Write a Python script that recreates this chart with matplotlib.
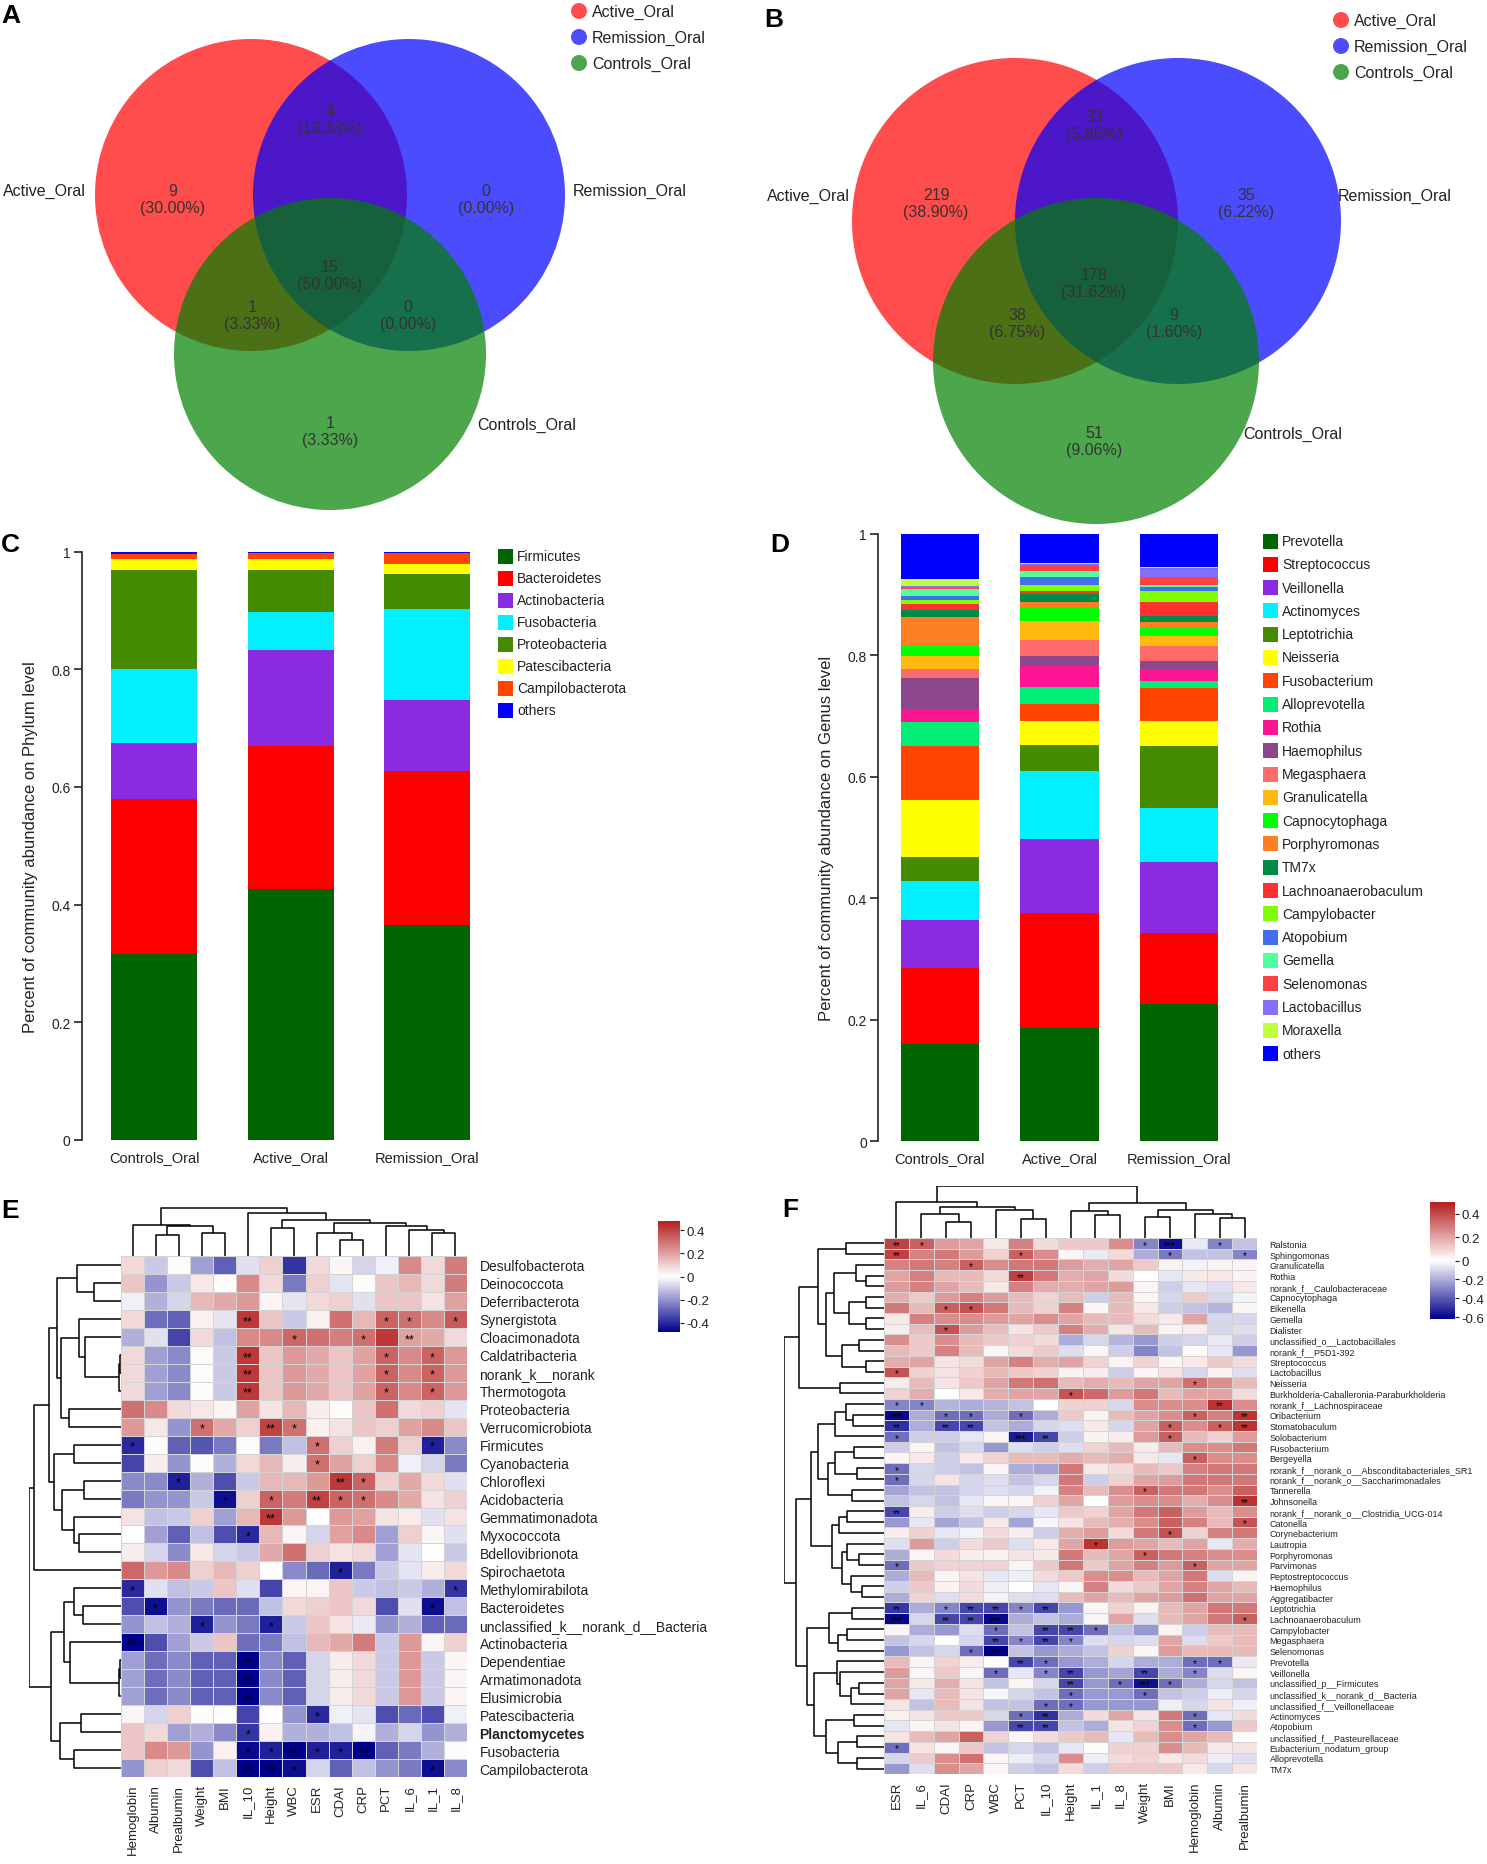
import numpy as np
import matplotlib
matplotlib.use("Agg")
import matplotlib.pyplot as plt
from matplotlib.patches import Circle, Rectangle
from matplotlib.colors import LinearSegmentedColormap, TwoSlopeNorm

# ---------------- data ----------------
venn_groups = ["Active_Oral", "Remission_Oral", "Controls_Oral"]
# region order: only A, A&R, only R, all, A&C, R&C, only C
venn_a_counts = [9, 4, 0, 15, 1, 0, 1]
venn_b_counts = [219, 33, 35, 178, 38, 9, 51]

samples = ["Controls_Oral", "Active_Oral", "Remission_Oral"]

phyla = ["Firmicutes", "Bacteroidetes", "Actinobacteria", "Fusobacteria",
         "Proteobacteria", "Patescibacteria", "Campilobacterota", "others"]
phyla_colors = ["#006400", "#ff0000", "#8a2be2", "#00f0ff", "#458b00",
                "#ffff00", "#ff4500", "#0000ff"]
phyla_abund = {
    "Controls_Oral": [0.316, 0.264, 0.094, 0.127, 0.168, 0.019, 0.007, 0.005],
    "Active_Oral": [0.427, 0.242, 0.164, 0.065, 0.071, 0.018, 0.010, 0.003],
    "Remission_Oral": [0.366, 0.261, 0.120, 0.156, 0.059, 0.016, 0.019, 0.003],
}

genera = ["Prevotella", "Streptococcus", "Veillonella", "Actinomyces", "Leptotrichia",
          "Neisseria", "Fusobacterium", "Alloprevotella", "Rothia", "Haemophilus",
          "Megasphaera", "Granulicatella", "Capnocytophaga", "Porphyromonas", "TM7x",
          "Lachnoanaerobaculum", "Campylobacter", "Atopobium", "Gemella", "Selenomonas",
          "Lactobacillus", "Moraxella", "others"]
genera_colors = ["#006400", "#ff0000", "#8a2be2", "#00f0ff", "#458b00", "#ffff00",
                 "#ff4500", "#00ee76", "#ff1493", "#8b4789", "#ff6a6a", "#ffb90f",
                 "#00ff00", "#ff7f24", "#008b45", "#ff3030", "#7fff00", "#436eee",
                 "#54ff9f", "#ff4040", "#836fff", "#c0ff3e", "#0000ff"]
genera_abund = {
    "Controls_Oral": [0.160, 0.125, 0.079, 0.064, 0.039, 0.095, 0.089, 0.039, 0.022, 0.051,
                      0.014, 0.022, 0.017, 0.047, 0.011, 0.010, 0.007, 0.006, 0.011, 0.002,
                      0.004, 0.011, 0.075],
    "Active_Oral": [0.186, 0.189, 0.122, 0.112, 0.043, 0.039, 0.028, 0.028, 0.035, 0.016,
                    0.027, 0.031, 0.023, 0.009, 0.012, 0.006, 0.010, 0.012, 0.010, 0.011,
                    0.001, 0.001, 0.049],
    "Remission_Oral": [0.225, 0.118, 0.117, 0.089, 0.101, 0.041, 0.055, 0.011, 0.020, 0.014,
                       0.024, 0.016, 0.013, 0.011, 0.010, 0.022, 0.018, 0.007, 0.004, 0.013,
                       0.015, 0.001, 0.055],
}

# ---- heatmap E (phylum vs clinical) ----
e_rows = ["Desulfobacterota", "Deinococcota", "Deferribacterota", "Synergistota",
          "Cloacimonadota", "Caldatribacteria", "norank_k__norank", "Thermotogota",
          "Proteobacteria", "Verrucomicrobiota", "Firmicutes", "Cyanobacteria",
          "Chloroflexi", "Acidobacteria", "Gemmatimonadota", "Myxococcota",
          "Bdellovibrionota", "Spirochaetota", "Methylomirabilota", "Bacteroidetes",
          "unclassified_k__norank_d__Bacteria", "Actinobacteria", "Dependentiae",
          "Armatimonadota", "Elusimicrobia", "Patescibacteria", "Planctomycetes",
          "Fusobacteria", "Campilobacterota"]
e_cols = ["Hemoglobin", "Albumin", "Prealbumin", "Weight", "BMI", "IL_10", "Height",
          "WBC", "ESR", "CDAI", "CRP", "PCT", "IL_6", "IL_1", "IL_8"]
e_corr = [
    [0.08, -0.10, 0.01, -0.18, -0.30, -0.06, 0.10, -0.38, 0.08, 0.02, -0.08, -0.03, 0.25, 0.08, 0.28],
    [0.12, -0.20, -0.10, 0.05, 0.01, 0.25, 0.08, -0.25, 0.10, -0.05, 0.01, 0.12, 0.15, 0.08, 0.28],
    [-0.03, -0.15, -0.08, 0.15, 0.18, 0.22, 0.02, -0.05, 0.08, 0.10, -0.06, 0.12, 0.12, 0.06, 0.20],
    [0.08, -0.27, -0.30, 0.03, -0.05, 0.42, 0.12, -0.10, 0.03, 0.30, 0.15, 0.33, 0.30, 0.25, 0.35],
    [-0.15, -0.06, -0.35, 0.08, -0.12, 0.25, 0.25, 0.32, 0.30, 0.27, 0.30, 0.42, 0.20, 0.18, 0.08],
    [0.08, -0.18, -0.22, 0.01, -0.10, 0.42, 0.12, 0.22, 0.18, 0.12, 0.20, 0.33, 0.25, 0.33, 0.22],
    [0.08, -0.18, -0.22, 0.01, -0.10, 0.42, 0.12, 0.22, 0.18, 0.12, 0.20, 0.33, 0.25, 0.33, 0.22],
    [0.08, -0.18, -0.22, 0.01, -0.10, 0.42, 0.12, 0.22, 0.18, 0.12, 0.20, 0.33, 0.25, 0.33, 0.22],
    [0.30, 0.25, 0.08, 0.05, 0.02, 0.20, 0.06, 0.15, 0.04, 0.01, 0.12, 0.30, 0.08, 0.10, -0.05],
    [0.22, 0.05, -0.20, 0.30, 0.18, 0.10, 0.40, 0.30, 0.03, 0.06, 0.12, 0.10, 0.20, 0.25, 0.12],
    [-0.40, 0.01, -0.30, -0.32, -0.25, 0.01, -0.25, -0.12, 0.30, 0.10, 0.03, 0.28, 0.10, -0.42, -0.22],
    [-0.35, 0.04, -0.20, 0.01, -0.15, 0.08, 0.15, 0.04, 0.30, 0.20, 0.10, 0.25, -0.03, -0.08, -0.25],
    [-0.22, -0.22, -0.42, -0.15, -0.33, -0.10, 0.15, 0.15, 0.22, 0.42, 0.33, 0.10, 0.18, 0.08, -0.06],
    [-0.25, -0.20, -0.20, -0.10, -0.45, 0.10, 0.33, 0.28, 0.40, 0.33, 0.30, 0.25, 0.18, 0.06, 0.10],
    [0.06, -0.12, -0.10, 0.10, -0.18, 0.15, 0.42, 0.22, 0.00, 0.22, 0.20, 0.06, 0.04, -0.06, 0.06],
    [0.00, -0.18, -0.30, -0.12, -0.33, -0.40, 0.15, 0.02, -0.08, 0.20, 0.25, -0.18, 0.10, 0.02, -0.06],
    [0.04, -0.08, -0.22, 0.05, -0.08, -0.10, 0.18, 0.30, 0.10, 0.06, 0.08, -0.18, -0.05, 0.00, -0.10],
    [0.32, 0.22, 0.25, 0.10, 0.15, 0.10, 0.00, -0.22, -0.28, -0.42, -0.25, -0.10, -0.05, 0.04, 0.08],
    [-0.40, -0.06, -0.12, -0.10, 0.12, -0.06, -0.35, 0.02, 0.02, 0.12, -0.10, -0.12, -0.10, -0.15, -0.38],
    [-0.33, -0.45, -0.20, -0.25, -0.28, -0.28, -0.12, 0.08, 0.10, 0.12, 0.08, -0.33, -0.06, -0.45, -0.12],
    [-0.20, -0.12, -0.15, -0.42, -0.20, -0.25, -0.42, -0.10, 0.12, 0.06, -0.04, -0.20, -0.15, -0.30, -0.28],
    [-0.48, -0.33, -0.18, -0.10, 0.12, -0.27, -0.25, -0.12, 0.15, 0.18, 0.28, -0.10, 0.22, 0.02, 0.10],
    [-0.18, -0.27, -0.22, -0.30, -0.30, -0.48, -0.22, -0.30, -0.08, 0.04, 0.08, -0.10, 0.22, -0.10, 0.02],
    [-0.18, -0.27, -0.22, -0.30, -0.30, -0.48, -0.22, -0.30, -0.08, 0.04, 0.08, -0.10, 0.22, -0.10, 0.02],
    [-0.18, -0.27, -0.22, -0.30, -0.30, -0.48, -0.22, -0.30, -0.08, 0.04, 0.08, -0.10, 0.22, -0.10, 0.02],
    [0.02, -0.08, 0.10, 0.01, 0.00, -0.35, 0.00, -0.20, -0.40, -0.03, -0.05, -0.33, -0.28, -0.33, -0.03],
    [0.12, 0.08, -0.18, -0.15, -0.22, -0.38, 0.03, -0.15, -0.15, -0.12, -0.02, -0.15, -0.08, -0.20, -0.15],
    [0.12, 0.25, 0.22, -0.20, 0.03, -0.46, -0.42, -0.48, -0.42, -0.42, -0.48, -0.30, -0.25, -0.15, 0.01],
    [-0.20, 0.10, 0.08, -0.33, -0.12, -0.48, -0.48, -0.45, -0.08, -0.30, -0.12, -0.20, -0.25, -0.45, -0.22],
]
# number of stars per cell
e_sig = [
    "000000000000000", "000000000000000", "000000000000000", "000002000001101",
    "000000010010200", "000002000001010", "000002000001010", "000002000001010",
    "000000000000000", "000100210000000", "100000001000010", "000000001000000",
    "001000000210000", "000010102110000", "000000200000000", "000001000000000",
    "000000000000000", "000000000100000", "100000000000001", "010000000000010",
    "000100100000000", "200000000000000", "000002000000000", "000002000000000",
    "000002000000000", "000000001000000", "000001000000000", "000001121120000",
    "000002210000010",
]
# dendrograms: (height, left, right), leaves = display index
e_row_tree = (92,
              (87,
               (72,
                (64, (44, 0, (27, 1, 2)),
                 (60, (42, 3, (36, 4, (2, (1, 5, 6), 7))), (52, 8, 9))),
                (67, (47, 10, 11), (59, (37, 12, 13), (47, 14, (42, 15, 16))))),
               17),
              (70,
               (57, (47, 18, (38, 19, 20)), (51, 21, (2, (1, 22, 23), 24))),
               (61, (40, 25, 26), (47, 27, 28))))
e_col_tree = (48,
              (31, 0, (30, (21, 1, 2), (23, 3, 4))),
              (43, 5, (36, (28, 6, 7),
                       (33, (23, 8, (16, 9, 10)), (30, 11, (26, 12, (23, 13, 14)))))))

# ---- heatmap F (genus vs clinical) ----
f_rows = ["Ralstonia", "Sphingomonas", "Granulicatella", "Rothia", "norank_f__Caulobacteraceae",
          "Capnocytophaga", "Eikenella", "Gemella", "Dialister", "unclassified_o__Lactobacillales",
          "norank_f__P5D1-392", "Streptococcus", "Lactobacillus", "Neisseria",
          "Burkholderia-Caballeronia-Paraburkholderia", "norank_f__Lachnospiraceae",
          "Oribacterium", "Stomatobaculum", "Solobacterium", "Fusobacterium", "Bergeyella",
          "norank_f__norank_o__Absconditabacteriales_SR1", "norank_f__norank_o__Saccharimonadales",
          "Tannerella", "Johnsonella", "norank_f__norank_o__Clostridia_UCG-014", "Catonella",
          "Corynebacterium", "Lautropia", "Porphyromonas", "Parvimonas", "Peptostreptococcus",
          "Haemophilus", "Aggregatibacter", "Leptotrichia", "Lachnoanaerobaculum",
          "Campylobacter", "Megasphaera", "Selenomonas", "Prevotella", "Veillonella",
          "unclassified_p__Firmicutes", "unclassified_k__norank_d__Bacteria",
          "unclassified_f__Veillonellaceae", "Actinomyces", "Atopobium",
          "unclassified_f__Pasteurellaceae", "Eubacterium_nodatum_group", "Alloprevotella", "TM7x"]
f_cols = ["ESR", "IL_6", "CDAI", "CRP", "WBC", "PCT", "IL_10", "Height", "IL_1", "IL_8",
          "Weight", "BMI", "Hemoglobin", "Albumin", "Prealbumin"]
f_corr = [
    [0.42, 0.35, 0.22, 0.20, 0.05, 0.28, 0.08, 0.12, 0.12, 0.25, -0.30, -0.58, -0.05, -0.30, -0.15],
    [0.42, 0.28, 0.30, 0.22, 0.10, 0.35, 0.25, 0.02, -0.05, 0.08, -0.20, -0.32, -0.15, -0.15, -0.30],
    [0.28, 0.30, 0.28, 0.35, 0.25, 0.30, 0.30, 0.22, 0.18, 0.20, 0.12, 0.03, -0.03, 0.03, 0.02],
    [0.20, 0.28, 0.15, 0.15, 0.08, 0.42, 0.30, 0.18, 0.20, 0.08, 0.00, -0.06, 0.05, 0.05, 0.03],
    [0.22, 0.28, 0.20, 0.15, 0.05, 0.28, 0.18, 0.18, 0.20, 0.22, 0.02, -0.12, -0.06, -0.08, 0.05],
    [0.18, 0.12, 0.22, 0.28, 0.22, 0.15, 0.10, 0.15, -0.12, 0.15, 0.02, -0.10, 0.12, -0.10, -0.03],
    [0.30, 0.15, 0.35, 0.38, 0.30, 0.15, 0.10, 0.28, 0.02, 0.15, 0.05, -0.12, -0.15, -0.18, 0.02],
    [0.05, 0.28, 0.25, 0.25, 0.22, 0.20, 0.25, 0.20, 0.15, 0.15, 0.08, 0.05, 0.20, -0.10, -0.10],
    [0.04, 0.15, 0.38, 0.22, 0.15, 0.06, 0.12, 0.28, 0.18, 0.06, 0.15, 0.03, 0.04, -0.10, -0.08],
    [0.25, 0.12, 0.25, 0.15, 0.12, 0.10, 0.08, -0.20, -0.10, -0.18, -0.25, -0.12, -0.10, -0.05, -0.12],
    [0.15, 0.12, 0.28, 0.15, 0.02, 0.08, 0.12, -0.08, 0.02, -0.12, -0.30, -0.15, 0.01, -0.06, -0.25],
    [0.18, 0.20, 0.06, 0.08, 0.20, 0.28, 0.18, 0.20, 0.10, 0.03, 0.10, 0.02, 0.05, 0.12, 0.08],
    [0.38, 0.10, 0.06, 0.10, 0.15, 0.12, 0.10, 0.03, 0.04, -0.12, 0.02, 0.06, -0.10, 0.03, -0.08],
    [0.04, 0.15, 0.06, 0.12, 0.20, 0.30, 0.32, 0.15, 0.18, 0.15, 0.20, 0.20, 0.32, 0.25, 0.15],
    [0.10, 0.18, 0.00, 0.05, 0.18, 0.20, 0.20, 0.38, 0.33, 0.22, 0.30, 0.15, 0.20, 0.20, 0.08],
    [-0.30, -0.30, -0.18, -0.20, -0.18, -0.15, 0.00, 0.10, 0.10, -0.10, 0.25, 0.25, 0.25, 0.45, 0.25],
    [-0.60, -0.20, -0.35, -0.35, -0.20, -0.35, -0.20, 0.12, 0.03, 0.15, 0.20, 0.25, 0.35, 0.28, 0.45],
    [-0.50, -0.20, -0.45, -0.45, -0.15, -0.20, -0.10, -0.08, 0.05, -0.10, 0.20, 0.35, 0.25, 0.35, 0.45],
    [-0.35, -0.12, -0.12, -0.06, 0.02, -0.55, -0.45, -0.12, 0.03, 0.04, 0.22, 0.35, 0.15, 0.10, 0.22],
    [-0.12, 0.02, -0.15, -0.10, -0.25, -0.08, -0.12, -0.08, 0.10, 0.15, 0.04, 0.15, 0.25, 0.25, 0.30],
    [0.02, 0.05, -0.12, 0.05, 0.10, 0.15, 0.15, 0.18, 0.15, 0.18, 0.05, -0.06, 0.35, 0.25, 0.25],
    [-0.35, -0.10, -0.12, -0.15, 0.02, -0.20, -0.22, 0.30, 0.05, 0.08, 0.15, 0.12, 0.28, 0.30, 0.30],
    [-0.35, -0.10, 0.06, -0.10, -0.08, -0.15, -0.10, 0.30, -0.12, 0.10, 0.20, 0.22, 0.30, 0.30, 0.30],
    [-0.22, -0.15, -0.15, -0.10, -0.08, -0.10, -0.03, 0.28, 0.15, 0.25, 0.35, 0.30, 0.30, 0.25, 0.35],
    [-0.15, -0.10, -0.15, -0.06, 0.02, 0.02, 0.10, 0.20, 0.00, 0.22, 0.25, 0.25, 0.18, 0.25, 0.45],
    [-0.45, 0.04, -0.12, -0.08, -0.12, -0.10, -0.06, 0.12, 0.10, 0.20, 0.30, 0.35, 0.22, 0.15, 0.25],
    [-0.25, -0.06, -0.22, -0.15, 0.05, -0.22, -0.02, 0.06, 0.15, 0.18, 0.25, 0.35, 0.28, 0.15, 0.38],
    [0.04, 0.10, -0.06, -0.03, 0.08, 0.04, -0.12, 0.18, 0.22, 0.08, 0.30, 0.38, 0.10, 0.28, 0.30],
    [-0.08, 0.22, -0.12, 0.08, 0.12, -0.08, 0.05, 0.20, 0.45, 0.22, 0.20, 0.15, 0.20, -0.06, 0.18],
    [-0.20, 0.02, 0.08, 0.04, 0.03, 0.06, 0.05, 0.30, 0.15, 0.20, 0.35, 0.30, 0.28, 0.25, 0.25],
    [-0.35, 0.12, 0.10, 0.10, 0.10, 0.03, 0.12, 0.30, 0.12, 0.20, 0.28, 0.22, 0.35, 0.20, 0.20],
    [-0.20, 0.15, 0.02, 0.06, -0.06, -0.04, 0.08, 0.12, 0.25, 0.25, 0.15, 0.20, 0.30, -0.08, 0.03],
    [-0.12, 0.12, 0.03, 0.08, -0.04, 0.00, -0.06, 0.02, 0.28, 0.08, 0.12, 0.20, 0.28, 0.20, 0.15],
    [-0.20, 0.10, -0.08, 0.08, -0.03, -0.08, -0.08, 0.15, 0.20, 0.15, 0.20, 0.22, 0.32, 0.20, 0.20],
    [-0.48, -0.20, -0.30, -0.45, -0.45, -0.30, -0.45, -0.25, 0.02, 0.10, 0.03, 0.15, 0.20, 0.30, 0.30],
    [-0.60, -0.10, -0.45, -0.45, -0.60, -0.20, -0.15, -0.20, 0.02, 0.20, -0.08, 0.15, 0.20, 0.30, 0.35],
    [0.02, -0.20, -0.25, -0.08, -0.35, -0.15, -0.45, -0.45, -0.35, -0.15, -0.25, 0.03, -0.12, 0.15, 0.15],
    [-0.15, -0.10, 0.00, -0.10, -0.45, -0.30, -0.45, -0.30, -0.08, -0.10, -0.08, 0.20, -0.08, 0.12, 0.15],
    [-0.25, -0.15, -0.10, -0.35, -0.62, -0.15, -0.25, -0.20, -0.15, 0.10, 0.02, 0.22, 0.15, 0.15, 0.15],
    [0.15, 0.02, 0.10, 0.04, 0.00, -0.45, -0.35, -0.25, -0.20, -0.10, -0.20, -0.20, -0.35, -0.35, -0.05],
    [0.22, 0.02, 0.12, 0.02, -0.35, -0.06, -0.30, -0.45, -0.25, -0.22, -0.45, -0.20, -0.30, -0.08, 0.02],
    [0.20, 0.05, 0.18, 0.06, -0.15, 0.02, -0.10, -0.45, -0.25, -0.35, -0.58, -0.35, -0.20, -0.10, -0.15],
    [0.20, -0.06, 0.15, 0.06, -0.02, -0.10, -0.15, -0.35, -0.25, -0.25, -0.35, -0.15, -0.12, -0.04, -0.10],
    [0.06, -0.15, 0.15, 0.06, -0.15, -0.15, -0.35, -0.35, -0.25, -0.25, -0.25, -0.04, -0.10, 0.06, -0.04],
    [0.03, 0.06, 0.12, 0.12, -0.10, -0.35, -0.50, -0.20, 0.08, 0.20, 0.06, 0.30, -0.35, -0.06, 0.08],
    [-0.06, 0.02, 0.06, 0.03, -0.25, -0.45, -0.45, -0.15, -0.20, 0.06, 0.10, 0.25, -0.35, -0.25, 0.12],
    [0.06, 0.15, 0.20, 0.35, 0.10, 0.02, 0.08, 0.12, 0.15, -0.06, 0.15, 0.25, 0.20, 0.15, 0.01],
    [-0.35, 0.06, 0.02, 0.12, -0.15, -0.10, -0.15, -0.06, 0.01, 0.10, 0.10, 0.25, 0.15, 0.05, 0.06],
    [-0.10, 0.12, 0.25, 0.32, 0.02, -0.04, -0.10, 0.25, -0.04, 0.08, 0.10, 0.05, 0.08, -0.04, -0.08],
    [-0.25, -0.08, 0.25, 0.20, 0.02, -0.12, -0.15, 0.08, -0.12, 0.12, 0.12, 0.12, 0.05, -0.10, 0.06],
]
f_sig = [
    "210000000013010", "200001000001001", "000100000000000", "000002000000000",
    "000000000000000", "000000000000000", "001100000000000", "000000000000000",
    "001000000000000", "000000000000000", "000000000000000", "000000000000000",
    "100000000000000", "000000000000100", "000000010000000", "110000000000020",
    "301101000000102", "202200000001012", "100003200001000", "000000000000000",
    "000000000000100", "100000000000000", "100000000000000", "000000000010000",
    "000000000000002", "200000000000000", "000000000000001", "000000000001000",
    "000000001000000", "000000000010000", "100000000000100", "000000000000000",
    "000000000000000", "000000000000000", "201221200000000", "302230000000001",
    "000010221000000", "000021210000000", "000130000000000", "000002100000110",
    "000010120020100", "000000020131000", "000000010010000", "000000110000000",
    "000001200000100", "000002200000100", "000000000000000", "100000000000000",
    "000000000000000", "000000000000000",
]
f_col_tree = (52,
              (36, 0, (31, (24, 1, (16, 2, 3)), (28, 4, (19, 5, 6)))),
              (35, (27, 7, (23, 8, 9)), (28, (21, 10, 11), (24, 12, (20, 13, 14)))))
f_upper = (85,
           (66, (38, 0, 1),
            (58, (50, (28, 2, (18, 3, 4)), (35, (18, 5, 6), (18, 7, 8))),
             (42, (25, 9, 10), (18, 11, 12)))),
           (44, 13, 14))
f_grp_a = (73,
           (66, (49, (38, 15, (31, 16, 17)), 18),
            (56, (49, (30, 19, 20), (27, 21, 22)), (32, 23, 24))),
           (52, (45, (37, 25, 26), 27),
            (42, (37, 28, (25, 29, 30)), (33, 31, (22, 32, 33)))))
f_grp_b = (77,
           (55, (32, 34, 35), (46, (37, 36, 37), 38)),
           (70, (47, 39, (44, 40, (33, (25, 41, 42), 43))),
            (58, (30, 44, 45), (46, (27, 46, 47), (27, 48, 49)))))
f_row_tree = (100, f_upper, (88, f_grp_a, f_grp_b))

# ---------------- figure ----------------
W, H = 1487, 1865
plt.rcParams['font.family'] = ['Liberation Sans', 'DejaVu Sans']
fig = plt.figure(figsize=(W / 100, H / 100), dpi=100)


def px_axes(x0, y0, x1, y1):
    return fig.add_axes([x0 / W, 1 - y1 / H, (x1 - x0) / W, (y1 - y0) / H])


ov = px_axes(0, 0, W, H)
ov.set_xlim(0, W)
ov.set_ylim(H, 0)
ov.axis("off")

venn_fill = [(1, 0, 0, 0.7), (0, 0, 1, 0.7), (0, 0.5, 0, 0.7)]
legend_dot = ["#ff4d4d", "#4d4dff", "#4da64d"]


def draw_venn(centers, r, counts, spots, name_pos, legend_xy):
    for (cx, cy), col in zip(centers, venn_fill):
        ov.add_patch(Circle((cx, cy), r, facecolor=col, edgecolor="none"))
    total = sum(counts)
    for n, (tx, ty) in zip(counts, spots):
        ov.text(tx, ty, str(n), ha="center", va="center", fontsize=11.5, color="#333333")
        ov.text(tx, ty + 17, "(%.2f%%)" % (100.0 * n / total), ha="center", va="center",
                fontsize=11.5, color="#333333")
    for name, (tx, ty) in zip(venn_groups, name_pos):
        ov.text(tx, ty, name, ha="left", va="center", fontsize=11.5, color="#222222")
    lx, ly = legend_xy
    for i, (name, col) in enumerate(zip(venn_groups, legend_dot)):
        ov.add_patch(Circle((lx, ly + 26 * i), 8, facecolor=col, edgecolor="none"))
        ov.text(lx + 13, ly + 26 * i, name, ha="left", va="center", fontsize=11.5, color="#222222")


draw_venn([(251, 196), (409, 196), (330, 355)], 156, venn_a_counts,
          [(173, 191), (330, 112), (486, 191), (330, 268), (252, 307), (408, 307), (330, 424)],
          [(3, 191), (573, 191), (477, 425)], (579, 12))
draw_venn([(1015, 222), (1178, 222), (1096, 362)], 163, venn_b_counts,
          [(936, 196), (1094, 117), (1246, 196), (1094, 276), (1017, 315), (1174, 315), (1094, 434)],
          [(767, 196), (1338, 196), (1243, 434)], (1341, 21))


def stacked(box, centers_px, bar_px, cats, colors, abund, leg_x, leg_y0, leg_dy, ylab, ylab_x):
    x0, y0, x1, y1 = box
    unit = centers_px[1] - centers_px[0]
    ax = px_axes(x0, y0, x1, y1)
    ax.set_xlim(-(centers_px[0] - x0) / unit, (x1 - centers_px[0]) / unit)
    ax.set_ylim(0, 1)
    xs = np.arange(len(samples))
    bottoms = np.zeros(len(samples))
    for i, (cat, col) in enumerate(zip(cats, colors)):
        vals = np.array([abund[s][i] for s in samples])
        ax.bar(xs, vals, width=bar_px / unit, bottom=bottoms, color=col, edgecolor="none")
        bottoms += vals
    for sp in ["top", "right", "bottom"]:
        ax.spines[sp].set_visible(False)
    ax.spines["left"].set_linewidth(1.2)
    ax.spines["left"].set_color("#222222")
    ax.set_yticks([0, 0.2, 0.4, 0.6, 0.8, 1.0])
    ax.set_yticklabels(["0", "0.2", "0.4", "0.6", "0.8", "1"])
    ax.tick_params(axis="y", length=6, width=1.2, labelsize=10, colors="#222222", pad=2)
    ax.set_xticks(xs)
    ax.set_xticklabels(samples)
    ax.tick_params(axis="x", length=0, labelsize=10.5, pad=7, colors="#222222")
    ov.text(ylab_x, (y0 + y1) / 2, ylab, rotation=90, ha="center", va="center",
            fontsize=12, color="#222222")
    for i, (cat, col) in enumerate(zip(cats, colors)):
        yy = leg_y0 + i * leg_dy
        ov.add_patch(Rectangle((leg_x, yy - 7.5), 15, 15, facecolor=col, edgecolor="none"))
        ov.text(leg_x + 19, yy, cat, ha="left", va="center", fontsize=10, color="#222222")


stacked((81.5, 552.5, 490, 1141), [154, 290.5, 427], 86, phyla, phyla_colors, phyla_abund,
        498, 557, 22, "Percent of community abundance on Phylum level", 31)
stacked((878, 534.6, 1250, 1142), [940, 1059.5, 1179], 78, genera, genera_colors, genera_abund,
        1263, 542, 23.3, "Percent of community abundance on Genus level", 827)

cmap = LinearSegmentedColormap.from_list("corr", ["#00008b", "#ffffff", "#b41e1e"])


def draw_tree(ax, node, orient):
    if isinstance(node, int):
        return node + 0.5, 0.0
    h, a, b = node
    pa, ha = draw_tree(ax, a, orient)
    pb, hb = draw_tree(ax, b, orient)
    if orient == "top":
        ax.plot([pa, pa, pb, pb], [ha, h, h, hb], color="black", lw=1.1, solid_capstyle="butt")
    else:
        ax.plot([ha, h, h, hb], [pa, pa, pb, pb], color="black", lw=1.1, solid_capstyle="butt")
    return (pa + pb) / 2, h


def heatmap(hbox, rows, cols, corr, sig, norm, row_tree, col_tree, top_h, left_x0,
            row_fs, col_fs, star_fs, cbox, cticks, bold_rows=()):
    x0, y0, x1, y1 = hbox
    data = np.array(corr)
    nr, nc = data.shape
    ax = px_axes(x0, y0, x1, y1)
    mesh = ax.pcolormesh(np.arange(nc + 1), np.arange(nr + 1), data, cmap=cmap, norm=norm,
                         edgecolors="#d4d4d4", linewidth=0.7)
    ax.set_xlim(0, nc)
    ax.set_ylim(nr, 0)
    for i in range(nr):
        for j in range(nc):
            k = int(sig[i][j])
            if k:
                ax.text(j + 0.5, i + 0.62, "*" * k, ha="center", va="center",
                        fontsize=star_fs, color="black")
    ax.yaxis.tick_right()
    ax.set_yticks(np.arange(nr) + 0.5)
    ax.set_yticklabels(rows)
    ax.set_xticks(np.arange(nc) + 0.5)
    ax.set_xticklabels(cols, rotation=90)
    ax.tick_params(axis="y", length=0, labelsize=row_fs, pad=9, colors="#222222")
    ax.tick_params(axis="x", length=0, labelsize=col_fs, pad=5, colors="#222222")
    for lab in ax.get_yticklabels():
        if lab.get_text() in bold_rows:
            lab.set_fontweight("bold")
    for sp in ax.spines.values():
        sp.set_visible(False)

    top = px_axes(x0, y0 - top_h, x1, y0)
    draw_tree(top, col_tree, "top")
    top.set_xlim(0, nc)
    top.set_ylim(0, top_h)
    top.axis("off")

    left = px_axes(left_x0, y0, x0, y1)
    draw_tree(left, row_tree, "left")
    left.set_ylim(nr, 0)
    left.set_xlim(x0 - left_x0, 0)
    left.axis("off")

    cax = px_axes(*cbox)
    cb = fig.colorbar(mesh, cax=cax, ticks=cticks)
    cb.outline.set_visible(False)
    cb.ax.set_yticklabels(["%g" % t for t in cticks])
    cb.ax.tick_params(length=3, width=0.8, labelsize=9.5, colors="#222222", pad=1.5)
    return ax


heatmap((121, 1257, 467, 1778), e_rows, e_cols, e_corr, e_sig,
        TwoSlopeNorm(vcenter=0, vmin=-0.48, vmax=0.48), e_row_tree, e_col_tree, 49, 29,
        10, 9.5, 9, (658, 1222, 680, 1333), [0.4, 0.2, 0, -0.2, -0.4],
        bold_rows=("Planctomycetes",))
heatmap((884, 1239, 1257, 1775), f_rows, f_cols, f_corr, f_sig,
        TwoSlopeNorm(vcenter=0, vmin=-0.62, vmax=0.5), f_row_tree, f_col_tree, 52, 784,
        6.5, 9.5, 7, (1430, 1203, 1455, 1320), [0.4, 0.2, 0, -0.2, -0.4, -0.6])

for lab, (x, y) in zip("ABCDEF", [(1, 16), (764, 20), (1, 545), (770, 545), (1, 1211), (782, 1210)]):
    ov.text(x, y, lab, ha="left", va="center", fontsize=19, fontweight="bold", color="black")

fig.savefig("out.png", dpi=100)
